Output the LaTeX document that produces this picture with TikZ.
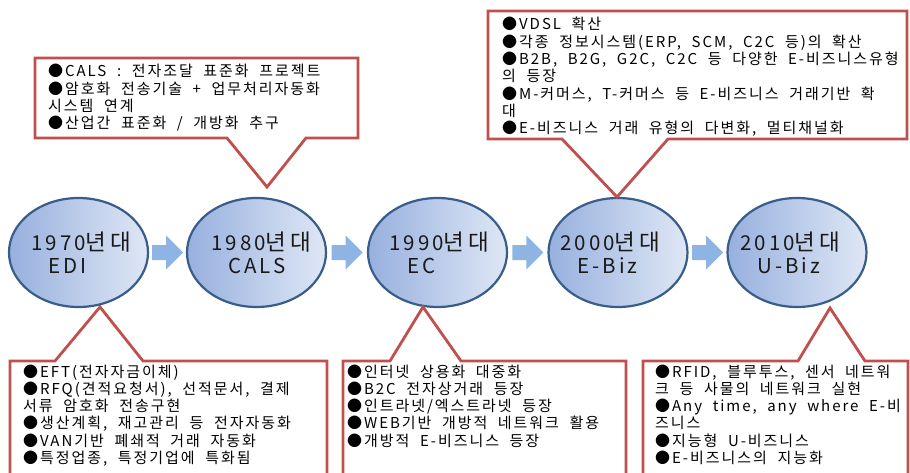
\documentclass[tikz,border=0pt]{standalone}
\usepackage{fontspec}
\setmainfont{Noto Sans CJK KR}
\newfontfamily\krtext[LetterSpace=13,WordSpace=2]{Noto Sans CJK KR}
\newfontfamily\kryear[LetterSpace=15]{Noto Sans CJK KR}
\newcommand{\bigk}[1]{{\fontsize{22.5}{24}\selectfont #1}}
\usetikzlibrary{calc,shapes.geometric}
\definecolor{calloutred}{HTML}{C0504D}
\definecolor{ellborder}{HTML}{385D8A}
\definecolor{ellleft}{HTML}{97B0DE}
\definecolor{ellright}{HTML}{DFE7F5}
\definecolor{arrowblue}{HTML}{8DB4E2}
\begin{document}
\begin{tikzpicture}[x=1pt,y=-1pt,
  era/.style={ellipse, draw=ellborder, line width=2.2pt, left color=ellleft, right color=ellright,
    minimum width=139pt, minimum height=109pt, inner sep=0pt},
  yr/.style={anchor=base west, inner sep=0pt, font=\kryear\fontsize{20.5}{24}\selectfont, text=black!90},
  callbox/.style={draw=calloutred, line width=2.8pt, fill=white, line join=miter},
  calltext/.style={anchor=base west, inner sep=0pt, align=left, font=\krtext\fontsize{15}{17.3}\selectfont},
  blockarrow/.pic={\fill[arrowblue] (-15.5,-7.5) -- (-1.5,-7.5) -- (-1.5,-17) -- (15.5,0) -- (-1.5,17) -- (-1.5,7.5) -- (-15.5,7.5) -- cycle;}
]
\useasboundingbox[fill=white] (0,0) rectangle (910,473);

% era ellipses
\node[era] (e1) at (78.5,252.5) {};
\node[era] (e2) at (256.5,252.5) {};
\node[era] (e3) at (437.5,252.5) {};
\node[era] (e4) at (618,252.5) {};
\node[era] (e5) at (797,252.5) {};

% labels
\node[yr] (y1) at ($(e1.center)+(-47.5,-2.5)$) {1970\bigk{년대}};
\node[yr] (n1) at ($(e1.center)+(-30.5,20.5)$) {EDI};
\node[yr] (y2) at ($(e2.center)+(-45.5,-2.5)$) {1980\bigk{년대}};
\node[yr] (n2) at ($(e2.center)+(-28.5,20.5)$) {CALS};
\node[yr] (y3) at ($(e3.center)+(-48.5,-2.5)$) {1990\bigk{년대}};
\node[yr] (n3) at ($(e3.center)+(-30.5,20.5)$) {EC};
\node[yr] (y4) at ($(e4.center)+(-58,-2.5)$) {2000\bigk{년대}};
\node[yr] (n4) at ($(e4.center)+(-41,20.5)$) {E-Biz};
\node[yr] (y5) at ($(e5.center)+(-57,-2.5)$) {2010\bigk{년대}};
\node[yr] (n5) at ($(e5.center)+(-40,20.5)$) {U-Biz};

% block arrows between eras
\path (e1.east) -- (e2.west) coordinate[midway] (a1);
\path (e2.east) -- (e3.west) coordinate[midway] (a2);
\path (e3.east) -- (e4.west) coordinate[midway] (a3);
\path (e4.east) -- (e5.west) coordinate[midway] (a4);
\pic at (a1) {blockarrow};
\pic at (a2) {blockarrow};
\pic at (a3) {blockarrow};
\pic at (a4) {blockarrow};

% callout tips
\coordinate (t1) at (267,187);
\coordinate (t2) at (617,197);
\coordinate (t3) at (100,307);
\coordinate (t4) at (423,307);
\coordinate (t5) at (830,308);

% callout outlines
\draw[callbox] (35,58) -- (358,58) -- (358,138) -- (306,138) -- (t1) -- (227,138) -- (35,138) -- cycle;
\draw[callbox] (488,11) -- (907,11) -- (907,139) -- (668,139) -- (t2) -- (562,139) -- (488,139) -- cycle;
\draw[callbox] (10,480) -- (10,361) -- (55,361) -- (t3) -- (143,361) -- (327,361) -- (327,480);
\draw[callbox] (343,480) -- (343,361) -- (390,361) -- (t4) -- (461,361) -- (626,361) -- (626,480);
\draw[callbox] (643,480) -- (643,361) -- (798,361) -- (t5) -- (865,361) -- (908,361) -- (908,480);

% callout texts (anchor = baseline of the last line)
\node[calltext] (c1) at (48,128.9) {●CALS : 전자조달 표준화 프로젝트\\●암호화 전송기술 + 업무처리자동화\\시스템 연계\\●산업간 표준화 / 개방화 추구};
\node[calltext] (c2) at (502,133.8) {●VDSL 확산\\●각종 정보시스템(ERP, SCM, C2C 등)의 확산\\●B2B, B2G, G2C, C2C 등 다양한 E-비즈니스유형\\의 등장\\●M-커머스, T-커머스 등 E-비즈니스 거래기반 확\\대\\●E-비즈니스 거래 유형의 다변화, 멀티채널화};
\node[calltext] (c3) at (23,463.5) {●EFT(전자자금이체)\\●RFQ(견적요청서), 선적문서, 결제\\서류 암호화 전송구현\\●생산계획, 재고관리 등 전자자동화\\●VAN기반 폐쇄적 거래 자동화\\●특정업종, 특정기업에 특화됨};
\node[calltext] (c4) at (347,446.2) {●인터넷 상용화 대중화\\●B2C 전자상거래 등장\\●인트라넷/엑스트라넷 등장\\●WEB기반 개방적 네트워크 활용\\●개방적 E-비즈니스 등장};
\node[calltext] (c5) at (655,463.5) {●RFID, 블루투스, 센서 네트워\\크 등 사물의 네트워크 실현\\●Any time, any where E-비\\즈니스\\●지능형 U-비즈니스\\●E-비즈니스의 지능화};
\end{tikzpicture}
\end{document}
